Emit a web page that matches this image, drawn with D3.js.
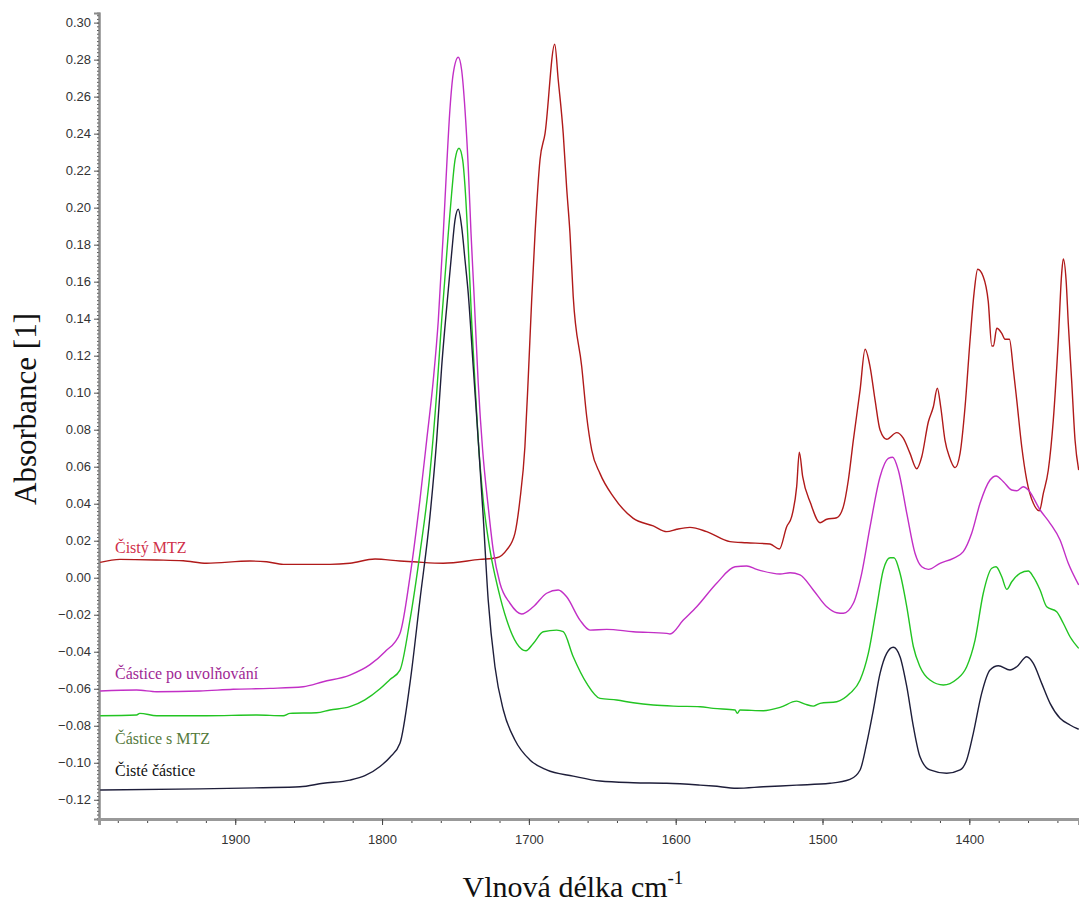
<!DOCTYPE html>
<html>
<head>
<meta charset="utf-8">
<script src="https://cdn.jsdelivr.net/npm/d3@7.9.0/dist/d3.min.js"></script>
<style>
  body { margin: 0; background: #fff; }
  svg { display: block; }
</style>
</head>
<body>
<svg id="chart" width="1079" height="908"></svg>
<script>
// wavenumber [cm-1], absorbance [1]
const cistyMTZ = [
  [1992, 0.0083], [1978.5, 0.0099], [1953.5, 0.0096], [1935.4, 0.0092], [1919.5, 0.0078],
  [1890, 0.009], [1878.6, 0.0086], [1867.3, 0.0072], [1835.5, 0.0072], [1821.9, 0.0078],
  [1804.8, 0.0101], [1787.8, 0.009], [1778.7, 0.0086], [1758.3, 0.0078], [1733.3, 0.0099],
  [1721.9, 0.0108], [1715.1, 0.015], [1709.5, 0.024], [1706.1, 0.042], [1702.7, 0.0708],
  [1700.4, 0.1086], [1698.1, 0.150], [1695.8, 0.186], [1692.4, 0.226], [1689, 0.240],
  [1682.4, 0.2883], [1680, 0.269], [1676.6, 0.240], [1674.3, 0.211], [1672, 0.186],
  [1669.8, 0.152], [1664, 0.114], [1660.6, 0.087], [1657.2, 0.069], [1651.6, 0.0564],
  [1642.5, 0.0438], [1628.9, 0.0321], [1615.3, 0.028], [1606.1, 0.0249], [1599.3, 0.0262],
  [1590.3, 0.0272], [1578.9, 0.0249], [1563, 0.0195], [1551.6, 0.0189], [1535.8, 0.0182],
  [1529.4, 0.0155], [1524.4, 0.0276], [1521, 0.033], [1517.6, 0.0492], [1515.8, 0.0678],
  [1513.5, 0.0546], [1508.1, 0.0402], [1501.7, 0.0297], [1497.1, 0.0316], [1490.3, 0.0324],
  [1485.8, 0.0384], [1482.4, 0.0528], [1479, 0.0744], [1474.4, 0.1015], [1471, 0.1235],
  [1467.6, 0.114], [1464.2, 0.096], [1460.8, 0.0798], [1456.3, 0.0748], [1449.5, 0.0784],
  [1445, 0.0754], [1440.4, 0.0672], [1435.8, 0.0589], [1432.4, 0.0654], [1427.9, 0.0843],
  [1424.5, 0.0924], [1421.8, 0.1024], [1419.5, 0.0924], [1416.6, 0.0744], [1413.6, 0.0654],
  [1409.7, 0.0595], [1406.3, 0.0672], [1402.9, 0.0924], [1399.5, 0.1285], [1396.8, 0.1537],
  [1394.3, 0.1667], [1390.5, 0.1627], [1387.1, 0.1492], [1384.7, 0.1252], [1383.6, 0.1252],
  [1381.3, 0.1348], [1377.9, 0.1321], [1375.7, 0.1289], [1372.7, 0.1289], [1370, 0.1123],
  [1367.7, 0.096], [1364.3, 0.0708], [1360.9, 0.0528], [1356.4, 0.0402], [1352.3, 0.0362],
  [1349.6, 0.0456], [1346.2, 0.0582], [1342.8, 0.0852], [1339.4, 0.1285], [1337.1, 0.1645],
  [1336, 0.1723], [1334.1, 0.1609], [1332.6, 0.1375], [1330.2, 0.1051], [1328, 0.0744],
  [1325.5, 0.0582]
];

const casticePoUvolnovani = [
  [1992, -0.0612], [1967.2, -0.0607], [1953.5, -0.0616], [1924.1, -0.0612], [1901.4, -0.0603],
  [1876.4, -0.0598], [1853.7, -0.0589], [1840.1, -0.0562], [1821.9, -0.0526], [1808.2, -0.047],
  [1798, -0.040], [1787.8, -0.0301], [1781, 0.0005], [1774.2, 0.042], [1769.6, 0.0744],
  [1765.1, 0.1069], [1761.7, 0.139], [1758.3, 0.186], [1756, 0.222],
  [1753.8, 0.2528], [1751.5, 0.2726], [1748.1, 0.2813], [1745.8, 0.2744], [1743.5, 0.2528],
  [1741.3, 0.222], [1739.4, 0.186], [1737.4, 0.1537], [1734.5, 0.1051],
  [1731.5, 0.069], [1727.7, 0.0384], [1724.3, 0.015], [1719.7, -0.003], [1712.9, -0.0138],
  [1704.9, -0.0196], [1697, -0.0157], [1687.9, -0.0084], [1680, -0.0066], [1674.3, -0.0103],
  [1665.2, -0.0229], [1658.4, -0.0283], [1647, -0.0279], [1628.9, -0.0292], [1606.1, -0.0301],
  [1603.9, -0.0304], [1594.8, -0.0229], [1585.7, -0.0157], [1572.1, -0.003], [1559.6, 0.0059],
  [1551.6, 0.0063], [1544.8, 0.0045], [1528.9, 0.002], [1522.1, 0.0027], [1515.3, 0.0015],
  [1506.3, -0.0066], [1497.1, -0.0157], [1490.3, -0.0189], [1485.8, -0.0192], [1479, -0.0138],
  [1473.3, 0.0024], [1467.6, 0.0276], [1460.8, 0.0546], [1455.2, 0.0645], [1452.2, 0.0651],
  [1448.4, 0.0582], [1442.6, 0.0348], [1437, 0.0132], [1432.4, 0.0059], [1427.9, 0.0045],
  [1420, 0.0078], [1410.9, 0.0105], [1404.1, 0.0141], [1398.4, 0.024], [1392.7, 0.0402],
  [1385.9, 0.0528], [1381.8, 0.055], [1376.8, 0.0519], [1371.1, 0.0474], [1367.7, 0.047],
  [1363.2, 0.0492], [1359.8, 0.0474], [1351.8, 0.0366], [1345, 0.0294], [1338.2, 0.0204],
  [1332.6, 0.0078], [1325.5, -0.0039]
];

const casticeSMTZ = [
  [1992, -0.0746], [1967.2, -0.0742], [1965, -0.0733], [1953.5, -0.0746], [1919.5, -0.0746],
  [1885.4, -0.0742], [1867.3, -0.0746], [1862.7, -0.0733], [1844.6, -0.073], [1835.5, -0.0715],
  [1821.9, -0.0697], [1811.7, -0.066], [1801.4, -0.060], [1794.6, -0.055], [1787.8, -0.0499],
  [1781, -0.0229], [1774.2, 0.0132], [1767.4, 0.0564], [1762.8, 0.0997], [1759.4, 0.139],
  [1754.9, 0.186], [1752.6, 0.2078], [1750.3, 0.2258], [1747.6, 0.2321],
  [1745.1, 0.2258], [1743.5, 0.2114], [1741.7, 0.186], [1739, 0.139],
  [1736.7, 0.1051], [1734.5, 0.0744], [1731.1, 0.042], [1726.5, 0.015], [1720.8, -0.0066],
  [1715.1, -0.0229], [1708.3, -0.0355], [1702, -0.0395], [1697, -0.0355], [1690.2, -0.0292],
  [1681.1, -0.0283], [1676.6, -0.0292], [1669.8, -0.0427], [1660.6, -0.0571], [1651.6, -0.0652],
  [1640.2, -0.0661], [1628.9, -0.0676], [1615.3, -0.0688], [1601.6, -0.0694], [1583.4, -0.0697],
  [1574.4, -0.0706], [1559.6, -0.0715], [1558, -0.0733], [1556.2, -0.0715], [1540.3, -0.0719],
  [1528.9, -0.0701], [1517.6, -0.0667], [1511.9, -0.0683], [1506.3, -0.0694], [1501.7, -0.0679],
  [1490.3, -0.067], [1481.3, -0.0625], [1474.4, -0.0553], [1468.8, -0.0409], [1463.1, -0.0157],
  [1458.6, 0.0042], [1454, 0.0108], [1451.3, 0.0108], [1447.2, 0.0024], [1442.6, -0.0157],
  [1438.1, -0.0373], [1433.6, -0.0481], [1426.8, -0.0553], [1417.7, -0.058], [1408.6, -0.0549],
  [1401.8, -0.0481], [1396.1, -0.0337], [1390.5, -0.0084], [1384.7, 0.0051], [1381.8, 0.0059],
  [1377.9, 0.0005], [1374.5, -0.0063], [1371.1, -0.0022], [1365.5, 0.0024], [1359.8, 0.0036],
  [1356.4, 0.0005], [1351.8, -0.0066], [1347.3, -0.0157], [1340.5, -0.0184], [1336, -0.0246],
  [1331.4, -0.0319], [1325.5, -0.0382]
];

const cisteCastice = [
  [1992, -0.1147], [1924.1, -0.1141], [1881.1, -0.1135], [1855.9, -0.113], [1840.1, -0.1111],
  [1821.9, -0.1094], [1811.7, -0.107], [1801.4, -0.102], [1794.6, -0.097], [1787.8, -0.0895],
  [1781, -0.0571], [1774.2, -0.0121], [1767.4, 0.033], [1762.8, 0.0744], [1759.4, 0.114],
  [1754.9, 0.1555], [1752.6, 0.1754], [1750.3, 0.1934], [1748.1, 0.1991],
  [1745.8, 0.1897], [1743.5, 0.1717], [1741.3, 0.1537], [1737.9, 0.114],
  [1734.5, 0.0744], [1731.1, 0.033], [1727.7, -0.0121], [1723.1, -0.0481], [1717.4, -0.0715],
  [1709.5, -0.0877], [1699.3, -0.0985], [1687.9, -0.1039], [1669.8, -0.1072], [1651.6, -0.1099],
  [1628.9, -0.1108], [1606.1, -0.1111], [1583.4, -0.1121], [1574.4, -0.1126], [1558.4, -0.1138],
  [1540.3, -0.113], [1517.6, -0.1121], [1494.9, -0.1111], [1481.3, -0.109], [1474.4, -0.1039],
  [1469.9, -0.0895], [1465.4, -0.0715], [1460.8, -0.0517], [1456.3, -0.0409], [1451.8, -0.0376],
  [1447.2, -0.0427], [1442.6, -0.0589], [1438.1, -0.0805], [1433.6, -0.0968], [1426.8, -0.1039],
  [1415.4, -0.1057], [1406.3, -0.1039], [1401.8, -0.0985], [1397.3, -0.0841], [1391.6, -0.0625],
  [1385.9, -0.0499], [1380.2, -0.0476], [1372.3, -0.0499], [1367.7, -0.0481], [1360.9, -0.0427],
  [1356.4, -0.0463], [1350.7, -0.0571], [1345, -0.0679], [1338.2, -0.076], [1331.4, -0.0796],
  [1325.5, -0.0819]
];

const seriesNames = ["Čistý MTZ", "Částice po uvolňování", "Částice s MTZ", "Čisté částice"];
const seriesData = [cistyMTZ, casticePoUvolnovani, casticeSMTZ, cisteCastice];
const lineColors = ["#b01a1a", "#c22fc6", "#22c422", "#1e1e3a"];
const labelColors = ["#d0304a", "#a02894", "#557a3c", "#111111"];
const labelY = [0.0135, -0.055, -0.0900, -0.1070];

const yTicks = d3.range(-0.12, 0.301, 0.02);
const xTicks = [1900, 1800, 1700, 1600, 1500, 1400];

const svg = d3.select('#chart');
const plotLeft = 99, plotRight = 1079, plotTop = 13, plotBottom = 819;

const x = d3.scaleLinear().domain([1992.8, 1325.3]).range([plotLeft, plotRight]);
const y = d3.scaleLinear().domain([-0.1304, 0.3052]).range([plotBottom, plotTop]);

// plot clip
svg.append('defs').append('clipPath').attr('id', 'clip')
  .append('rect').attr('x', plotLeft).attr('y', plotTop)
  .attr('width', plotRight - plotLeft).attr('height', plotBottom - plotTop);

// y axis
const yAxis = svg.append('g').attr('transform', `translate(${plotLeft},0)`);
yAxis.append('g').call(d3.axisLeft(y).tickValues(d3.range(-0.13, 0.305, 0.002)).tickSize(2).tickFormat(''));
yAxis.append('g').call(d3.axisLeft(y).tickValues(yTicks).tickSize(5).tickFormat(d3.format('.2f')));
yAxis.selectAll('.domain').attr('stroke', '#8a8a8a').attr('stroke-width', 2);
yAxis.selectAll('line').attr('stroke', '#555');
yAxis.selectAll('text').attr('font-family', 'Liberation Sans, Arial, sans-serif')
  .attr('font-size', 13).attr('fill', '#333').attr('x', -8);

// x axis
const xAxis = svg.append('g').attr('transform', `translate(0,${plotBottom})`);
xAxis.append('g').call(d3.axisBottom(x).tickValues(d3.range(1980, 1320, -20)).tickSize(4).tickFormat(''));
xAxis.append('g').call(d3.axisBottom(x).tickValues(xTicks).tickSize(6).tickFormat(d3.format('d')));
xAxis.selectAll('.domain').attr('stroke', '#999').attr('stroke-width', 3);
xAxis.selectAll('line').attr('stroke', '#444');
xAxis.selectAll('text').attr('font-family', 'Liberation Sans, Arial, sans-serif')
  .attr('font-size', 13).attr('fill', '#333').attr('y', 16);

// spectra
const line = d3.line()
  .x(d => x(d[0]))
  .y(d => y(d[1]))
  .curve(d3.curveMonotoneX);

svg.append('g').attr('clip-path', 'url(#clip)')
  .selectAll('path')
  .data(seriesData)
  .join('path')
  .attr('d', line)
  .attr('fill', 'none')
  .attr('stroke', (d, i) => lineColors[i])
  .attr('stroke-width', 1.4);

// series labels
svg.append('g')
  .selectAll('text')
  .data(seriesNames)
  .join('text')
  .attr('x', 115)
  .attr('y', (d, i) => y(labelY[i]))
  .attr('font-family', 'Liberation Serif, Times New Roman, serif')
  .attr('font-size', 16)
  .attr('fill', (d, i) => labelColors[i])
  .text(d => d);

// axis titles
svg.append('text')
  .attr('transform', 'translate(36,409) rotate(-90)')
  .attr('text-anchor', 'middle')
  .attr('font-family', 'Liberation Serif, Times New Roman, serif')
  .attr('font-size', 31)
  .attr('fill', '#111')
  .text('Absorbance [1]');

const xt = svg.append('text')
  .attr('x', 573)
  .attr('y', 897)
  .attr('text-anchor', 'middle')
  .attr('font-family', 'Liberation Serif, Times New Roman, serif')
  .attr('font-size', 30)
  .attr('fill', '#111');
xt.append('tspan').text('Vlnová délka cm');
xt.append('tspan').attr('dy', -13).attr('font-size', 19).text('-1');
</script>
</body>
</html>
